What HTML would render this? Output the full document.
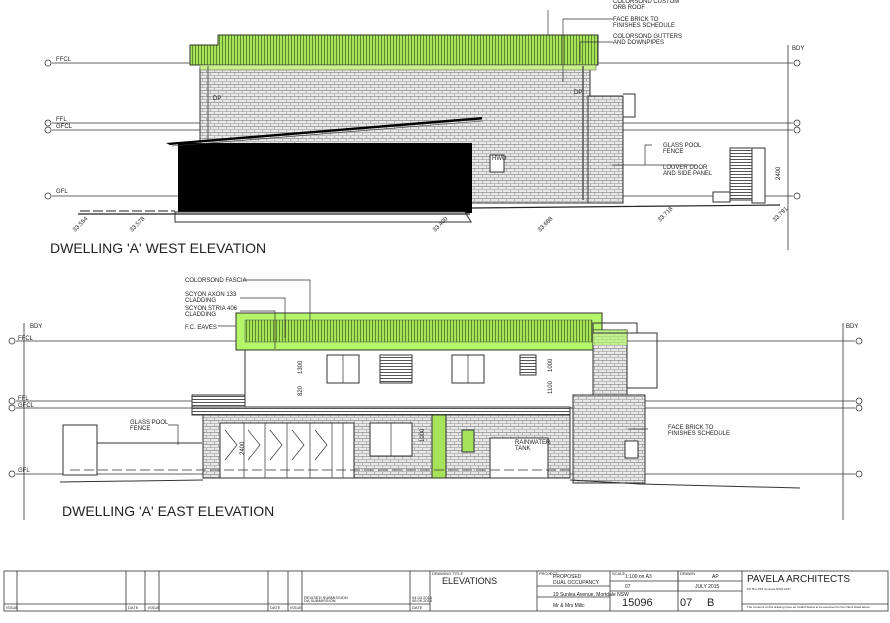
<!DOCTYPE html>
<html><head><meta charset="utf-8"><style>
body{margin:0;background:#fff;width:890px;height:618px;overflow:hidden}
svg text{font-family:"Liberation Sans",sans-serif;fill:#222}
</style></head><body>
<svg width="890" height="618" viewBox="0 0 890 618" xmlns="http://www.w3.org/2000/svg">
<defs>
<pattern id="rf" width="3" height="10" patternUnits="userSpaceOnUse"><rect width="3" height="10" fill="#a6e35a"/><rect width="1" height="10" fill="#5d8a2a"/></pattern>
<pattern id="br" width="8" height="6" patternUnits="userSpaceOnUse"><rect width="8" height="6" fill="#e8e8e8"/><rect x="0" y="0" width="8" height="1" fill="#a4a4a4"/><rect x="0" y="3" width="8" height="1" fill="#bbb"/><rect x="2" y="1" width="1" height="2" fill="#b4b4b4"/><rect x="6" y="4" width="1" height="2" fill="#b4b4b4"/></pattern>
<pattern id="lv" width="4" height="3" patternUnits="userSpaceOnUse"><rect width="4" height="3" fill="#fff"/><rect width="4" height="1" fill="#555"/></pattern>
</defs>
<g stroke="#333" stroke-width="0.8" fill="none">
<line x1="52" y1="63" x2="190" y2="63"/><line x1="597" y1="63" x2="793" y2="63"/>
<line x1="52" y1="123" x2="793" y2="123"/><line x1="52" y1="130" x2="793" y2="130"/>
<line x1="52" y1="196" x2="793" y2="196"/>
<circle cx="48" cy="63" r="3" fill="#fff"/><circle cx="48" cy="123" r="3" fill="#fff"/><circle cx="48" cy="130" r="3" fill="#fff"/><circle cx="48" cy="196" r="3" fill="#fff"/>
<circle cx="797" cy="63" r="3" fill="#fff"/><circle cx="797" cy="123" r="3" fill="#fff"/><circle cx="797" cy="130" r="3" fill="#fff"/><circle cx="797" cy="196" r="3" fill="#fff"/>
<line x1="788" y1="45" x2="788" y2="250"/>
</g>
<rect x="200" y="68" width="390" height="135" fill="url(#br)" stroke="#333"/>
<rect x="588" y="96" width="35" height="107" fill="url(#br)" stroke="#333"/>
<path d="M623 94h12v23h-12" fill="none" stroke="#333"/>
<path d="M190 45h28v-10h380v30H190z" fill="url(#rf)" stroke="#333"/>
<rect x="200" y="65" width="396" height="5" fill="#c8f08a" stroke="#555" stroke-width=".5"/>
<line x1="583" y1="66" x2="583" y2="200" stroke="#555" stroke-width="1.5"/>
<line x1="208" y1="66" x2="208" y2="140" stroke="#555"/>
<rect x="178" y="143" width="294" height="70" fill="#000"/>
<path d="M166 143L482 117v2.5L170 145z" fill="#000"/>
<path d="M172 146L482 121" stroke="#333" stroke-width=".6"/>
<path d="M175 212h290l6 10H175z" fill="#fff" stroke="#333"/>
<rect x="490" y="155" width="14" height="17" fill="#fff" stroke="#333"/>
<path d="M78 214H470M472 208L780 205" stroke="#222" stroke-width="1.2"/>
<path d="M80 211h95" stroke="#222" stroke-dasharray="10 3"/>
<rect x="730" y="148" width="22" height="52" fill="url(#lv)" stroke="#333"/>
<rect x="752" y="148" width="13" height="55" fill="#fff" stroke="#333"/>
<rect x="713" y="192" width="17" height="10" fill="#fff" stroke="#333"/>
<g font-size="6">
<text x="56" y="61">FFCL</text><text x="56" y="121">FFL</text><text x="56" y="128">GFCL</text><text x="56" y="193">GFL</text>
<text x="792" y="50">BDY</text>
<text x="213" y="100">DP</text><text x="574" y="94">DP</text><text x="492" y="160">HWU</text>
<text x="613" y="3">COLORSOND CUSTOM</text><text x="613" y="9">ORB ROOF</text>
<text x="613" y="21">FACE BRICK TO</text><text x="613" y="27">FINISHES SCHEDULE</text>
<text x="613" y="38">COLORSOND GUTTERS</text><text x="613" y="44">AND DOWNPIPES</text>
<text x="663" y="147">GLASS POOL</text><text x="663" y="153">FENCE</text>
<text x="663" y="169">LOUVER DOOR</text><text x="663" y="175">AND SIDE PANEL</text>
<text transform="translate(780,180) rotate(-90)">2400</text>
<text transform="translate(75,232) rotate(-45)">33.554</text>
<text transform="translate(132,232) rotate(-45)">33.578</text>
<text transform="translate(435,232) rotate(-45)">33.400</text>
<text transform="translate(540,232) rotate(-45)">33.688</text>
<text transform="translate(660,222) rotate(-45)">33.718</text>
<text transform="translate(775,222) rotate(-45)">33.791</text>
</g>
<g stroke="#333" stroke-width=".7" fill="none">
<path d="M548 10V35M563 19h50M563 19V82M580 42h33M580 42V62M652 145h-7v20M612 165h85"/>
</g>
<text x="50" y="253" font-size="14">DWELLING 'A' WEST ELEVATION</text>

<g stroke="#333" stroke-width="0.8" fill="none">
<line x1="16" y1="341" x2="855" y2="341"/><line x1="16" y1="401" x2="855" y2="401"/><line x1="16" y1="408" x2="855" y2="408"/><line x1="16" y1="474" x2="855" y2="474"/>
<circle cx="12" cy="341" r="3" fill="#fff"/><circle cx="12" cy="401" r="3" fill="#fff"/><circle cx="12" cy="408" r="3" fill="#fff"/><circle cx="12" cy="474" r="3" fill="#fff"/>
<circle cx="859" cy="341" r="3" fill="#fff"/><circle cx="859" cy="401" r="3" fill="#fff"/><circle cx="859" cy="408" r="3" fill="#fff"/><circle cx="859" cy="474" r="3" fill="#fff"/>
<line x1="24" y1="323" x2="24" y2="520"/><line x1="843" y1="323" x2="843" y2="520"/>
</g>
<rect x="245" y="350" width="348" height="58" fill="#fff" stroke="#333"/>
<rect x="236" y="313" width="366" height="37" fill="#b4f56a" stroke="#333"/>
<rect x="245" y="320" width="347" height="22" fill="url(#rf)" stroke="#555" stroke-width=".5"/>
<rect x="593" y="330" width="34" height="70" fill="url(#br)" stroke="#333"/>
<rect x="593" y="330" width="34" height="15" fill="#b4f56a" opacity=".7"/>
<path d="M593 323h44v10h-44zM627 333h30v55h-30" fill="none" stroke="#333"/>
<rect x="573" y="395" width="72" height="88" fill="url(#br)" stroke="#333"/>
<rect x="625" y="441" width="13" height="17" fill="#fff" stroke="#333"/>
<rect x="192" y="395" width="53" height="12" fill="url(#lv)" stroke="#333"/>
<rect x="192" y="407" width="378" height="8" fill="url(#lv)" stroke="#333"/>
<rect x="203" y="415" width="367" height="63" fill="url(#br)" stroke="#333"/>
<g fill="#fff" stroke="#333">
<rect x="220" y="423" width="134" height="55"/><rect x="370" y="423" width="42" height="33"/>
<rect x="432" y="415" width="14" height="63" fill="#a6e35a"/>
<rect x="462" y="430" width="12" height="22" fill="#a6e35a"/>
<rect x="490" y="438" width="58" height="40"/>
<rect x="327" y="355" width="32" height="28"/><rect x="380" y="355" width="32" height="28" fill="url(#lv)"/>
<rect x="452" y="355" width="32" height="28"/><rect x="520" y="355" width="16" height="20" fill="url(#lv)"/>
<rect x="63" y="425" width="34" height="50"/>
</g>
<g stroke="#333" stroke-width=".7" fill="none">
<path d="M244 423v55M265 423v55M287 423v55M310 423v55M332 423v55M343 423v55M391 423v33M343 355v28M468 355v28"/>
<path d="M225 430l12 15-12 15M248 430l12 15-12 15M270 430l12 15-12 15M292 430l12 15-12 15M315 430l12 15-12 15"/>
<path d="M97 443h105M60 482L203 480M570 480L640 484L800 488" stroke-width="1"/>
<path d="M70 470h500" stroke-dasharray="10 4"/>
<path d="M243 280h67v40M240 298h45v40M240 311h35v38M218 326h18M168 425h10v20"/>
<path d="M648 429h-20"/>
</g>
<g font-size="6">
<text x="30" y="328">BDY</text><text x="18" y="340">FFCL</text><text x="18" y="400">FFL</text><text x="18" y="407">GFCL</text><text x="18" y="472">GFL</text>
<text x="846" y="328">BDY</text>
<text x="185" y="282">COLORSOND FASCIA</text>
<text x="185" y="296">SCYON AXON 133</text><text x="185" y="302">CLADDING</text>
<text x="185" y="310">SCYON STRIA 406</text><text x="185" y="316">CLADDING</text>
<text x="185" y="329">F.C. EAVES</text>
<text x="130" y="424">GLASS POOL</text><text x="130" y="430">FENCE</text>
<text x="515" y="444">RAINWATER</text><text x="515" y="450">TANK</text>
<text x="668" y="429">FACE BRICK TO</text><text x="668" y="435">FINISHES SCHEDULE</text>
<text transform="translate(302,374) rotate(-90)">1300</text><text transform="translate(302,396) rotate(-90)">820</text>
<text transform="translate(552,372) rotate(-90)">1000</text><text transform="translate(552,394) rotate(-90)">1100</text>
<text transform="translate(244,455) rotate(-90)">2400</text><text transform="translate(424,442) rotate(-90)">1000</text>
</g>
<text x="62" y="516" font-size="14">DWELLING 'A' EAST ELEVATION</text>

<g stroke="#333" stroke-width=".8" fill="none">
<rect x="4" y="571" width="884" height="40"/>
<path d="M145 571v40M288 571v40M430 571v40M537 571v40M610 571v40M678 571v40M742 571v40"/>
<path d="M17 571v40M126 571v40M159 571v40M268 571v40M302 571v40M410 571v40M4 604h426M537 586h73M537 597h73M610 581h132M610 591h132M742 604h146M678 571v20"/>
</g>
<g font-size="4">
<text x="6" y="609">ISSUE</text><text x="128" y="609">DATE</text><text x="148" y="609">ISSUE</text><text x="270" y="609">DATE</text><text x="290" y="609">ISSUE</text><text x="412" y="609">DATE</text>
<text x="304" y="599">REVISED SUBMISSION</text><text x="304" y="602">DA SUBMISSION</text><text x="412" y="599">04.04.2015</text><text x="412" y="602">06.09.2015</text>
<text x="432" y="575">DRAWING TITLE</text><text x="539" y="575">PROJECT</text><text x="612" y="575">SCALE</text><text x="680" y="575">DRAWN</text>
</g>
<text x="442" y="584" font-size="9">ELEVATIONS</text>
<text x="553" y="578" font-size="5">PROPOSED</text><text x="553" y="584" font-size="5">DUAL OCCUPANCY</text>
<text x="553" y="596" font-size="5">19 Sunlea Avenue, Mortdale NSW</text>
<text x="553" y="607" font-size="5">Mr &amp; Mrs Milic</text>
<text x="625" y="578" font-size="5">1:100 on A3</text><text x="625" y="588" font-size="5">07</text>
<text x="712" y="578" font-size="5">AP</text><text x="695" y="588" font-size="5">JULY 2015</text>
<text x="622" y="606" font-size="11">15096</text><text x="680" y="606" font-size="11">07</text><text x="707" y="606" font-size="11">B</text>
<text x="747" y="582" font-size="10">PAVELA ARCHITECTS</text>
<text x="747" y="590" font-size="3">PO Box 816  Concord NSW 2137</text>
<text x="747" y="608" font-size="3">The contents of this drawing have an Invalid Status to be executed for the Client listed above</text>
</svg>
</body></html>
